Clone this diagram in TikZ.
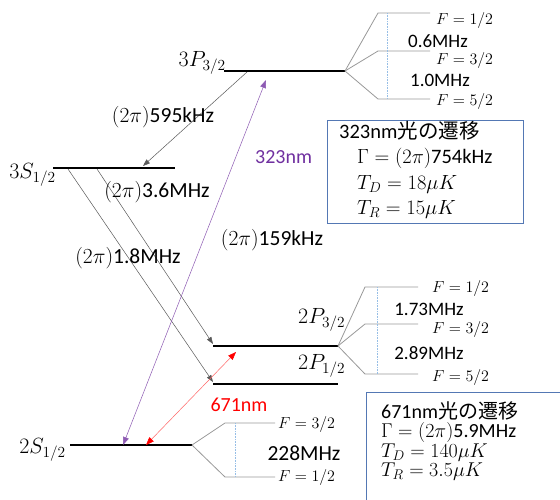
\RequirePackage{fix-cm}
\documentclass[tikz,border=0pt]{standalone}
\usepackage{fontspec}
\setmainfont{Carlito}
\newfontfamily\jpfont{Noto Sans CJK JP}
\usetikzlibrary{arrows.meta}
\definecolor{lpurple}{RGB}{112,48,160}
\definecolor{boxblue}{RGB}{84,120,180}
\definecolor{dotblue}{RGB}{150,190,230}
\tikzset{
  level/.style={line width=2.4pt, black},
  hf/.style={line width=0.8pt, black!40},
  hfdot/.style={line width=0.6pt, dotblue, densely dotted},
  decay/.style={line width=0.5pt, black!65, -{Triangle[length=7pt,width=5pt]}},
  uv/.style={line width=0.5pt, lpurple!80, {Triangle[length=8pt,width=6pt]}-{Triangle[length=8pt,width=6pt]}},
  redl/.style={line width=0.5pt, red!60, {Triangle[length=8pt,width=6pt,red]}-{Triangle[length=8pt,width=6pt,red]}},
  txt/.style={inner sep=0pt, font=\fontsize{21.5}{24}\selectfont},
  btxt/.style={inner sep=0pt, anchor=west, font=\fontsize{20.5}{23}\selectfont},
  htxt/.style={inner sep=0pt, font=\fontsize{19}{22}\selectfont},
  ftxt/.style={inner sep=0pt, anchor=west, font=\fontsize{16}{18}\selectfont},
  lbl/.style={inner sep=0pt, font=\fontsize{22}{24}\selectfont},
  infobox/.style={draw=boxblue, line width=0.8pt},
}
\begin{document}
\begin{tikzpicture}[x=1pt,y=-1pt]
\clip (0,0) rectangle (560,499);
\fill[white] (0,0) rectangle (560,499);

% levels
\coordinate (p3a) at (224,71); \coordinate (p3b) at (345,71);
\coordinate (s3a) at (53,168); \coordinate (s3b) at (175,168);
\coordinate (p2a) at (213,346); \coordinate (p2b) at (338,346);
\coordinate (p1a) at (213,384); \coordinate (p1b) at (338,384);
\coordinate (s2a) at (70,445); \coordinate (s2b) at (192,445);
\draw[level] (p3a) -- (p3b);
\draw[level] (s3a) -- (s3b);
\draw[level] (p2a) -- (p2b);
\draw[level] (p1a) -- (p1b);
\draw[level] (s2a) -- (s2b);

% level labels
\node[lbl, anchor=east] (l3p) at (226,63) {$3P_{3/2}$};
\node[lbl, anchor=east] (l3s) at (56,175) {$3S_{1/2}$};
\node[lbl, anchor=west] (l2p3) at (298,320) {$2P_{3/2}$};
\node[lbl, anchor=west] (l2p1) at (298,366) {$2P_{1/2}$};
\node[lbl, anchor=east] (l2s) at (66,450) {$2S_{1/2}$};

% 3P hyperfine
\coordinate (h3a) at (378,13); \coordinate (h3b) at (430,13);
\coordinate (h3c) at (378,51); \coordinate (h3d) at (430,51);
\coordinate (h3e) at (378,99); \coordinate (h3f) at (430,99);
\draw[hf] (p3b) -- (h3a) -- (h3b);
\draw[hf] (p3b) -- (h3c) -- (h3d);
\draw[hf] (p3b) -- (h3e) -- (h3f);
\draw[hfdot] (387,13) -- (387,99);
\node[ftxt] (f3a) at (436,20) {$F=1/2$};
\node[ftxt] (f3b) at (436,60) {$F=3/2$};
\node[ftxt] (f3c) at (436,101) {$F=5/2$};
\node[htxt] (m06) at (438,41) {0.6MHz};
\node[htxt] (m10) at (440,80) {1.0MHz};

% 2P hyperfine
\coordinate (h2a) at (365,287); \coordinate (h2b) at (418,287);
\coordinate (h2c) at (365,324); \coordinate (h2d) at (418,324);
\coordinate (h2e) at (365,374); \coordinate (h2f) at (418,374);
\draw[hf] (p2b) -- (h2a) -- (h2b);
\draw[hf] (p2b) -- (h2c) -- (h2d);
\draw[hf] (p2b) -- (h2e) -- (h2f);
\draw[hfdot] (377,287) -- (377,374);
\node[ftxt] (f2a) at (432,288) {$F=1/2$};
\node[ftxt] (f2b) at (432,329) {$F=3/2$};
\node[ftxt] (f2c) at (432,377) {$F=5/2$};
\node[htxt] (m173) at (429,309) {1.73MHz};
\node[htxt] (m289) at (429,353) {2.89MHz};

% 2S hyperfine
\coordinate (h1a) at (225,423); \coordinate (h1b) at (275,423);
\coordinate (h1c) at (225,477); \coordinate (h1d) at (275,477);
\draw[hf] (s2b) -- (h1a) -- (h1b);
\draw[hf] (s2b) -- (h1c) -- (h1d);
\draw[hfdot] (235,423) -- (235,477);
\node[ftxt] (f1a) at (278,424) {$F=3/2$};
\node[ftxt] (f1b) at (278,477) {$F=1/2$};
\node[txt] (m228) at (304,453) {228MHz};

% decays
\coordinate (d1) at (247,72); \coordinate (d2) at (143,166);
\draw[decay] (d1) -- (d2);
\coordinate (d3) at (97,169); \coordinate (d4) at (213,344);
\coordinate (d5) at (68,169); \coordinate (d6) at (213,382);
\draw[decay] (d3) -- (d4);
\draw[decay] (d5) -- (d6);

% lasers
\coordinate (u1) at (123,445); \coordinate (u2) at (266,80);
\draw[uv] (u1) -- (u2);
\coordinate (r1) at (146,445); \coordinate (r2) at (236,352);
\draw[redl] (r1) -- (r2);

% transition labels
\node[txt] (t595) at (163,117) {$(2\pi)$595kHz};
\node[txt, anchor=west, text=lpurple, font=\fontsize{20}{23}\selectfont] (t323) at (255,157) {323nm};
\node[txt] (t36) at (157,192) {$(2\pi)$3.6MHz};
\node[txt] (t18) at (128,258) {$(2\pi)$1.8MHz};
\node[txt] (t159) at (272,240) {$(2\pi)$159kHz};
\node[txt, text=red, font=\fontsize{20}{23}\selectfont] (t671) at (239,405) {671nm};

% info boxes
\draw[infobox] (327,120) rectangle (523,223);
\node[btxt] (b1a) at (339,131) {323nm{\jpfont 光の遷移}};
\node[btxt] (b1b) at (357,158) {$\Gamma=(2\pi)$754kHz};
\node[btxt] (b1c) at (357,184) {$T_D=18\mu K$};
\node[btxt] (b1d) at (357,209) {$T_R=15\mu K$};

\draw[infobox] (366,392) rectangle (580,520);
\node[inner sep=0pt, anchor=north west, align=left, font=\fontsize{20}{19.5}\selectfont] (b2) at (381,401)
  {671nm{\jpfont 光の遷移}\\ $\Gamma=(2\pi)$5.9MHz\\ $T_D=140\mu K$\\ $T_R=3.5\mu K$};
\end{tikzpicture}
\end{document}
